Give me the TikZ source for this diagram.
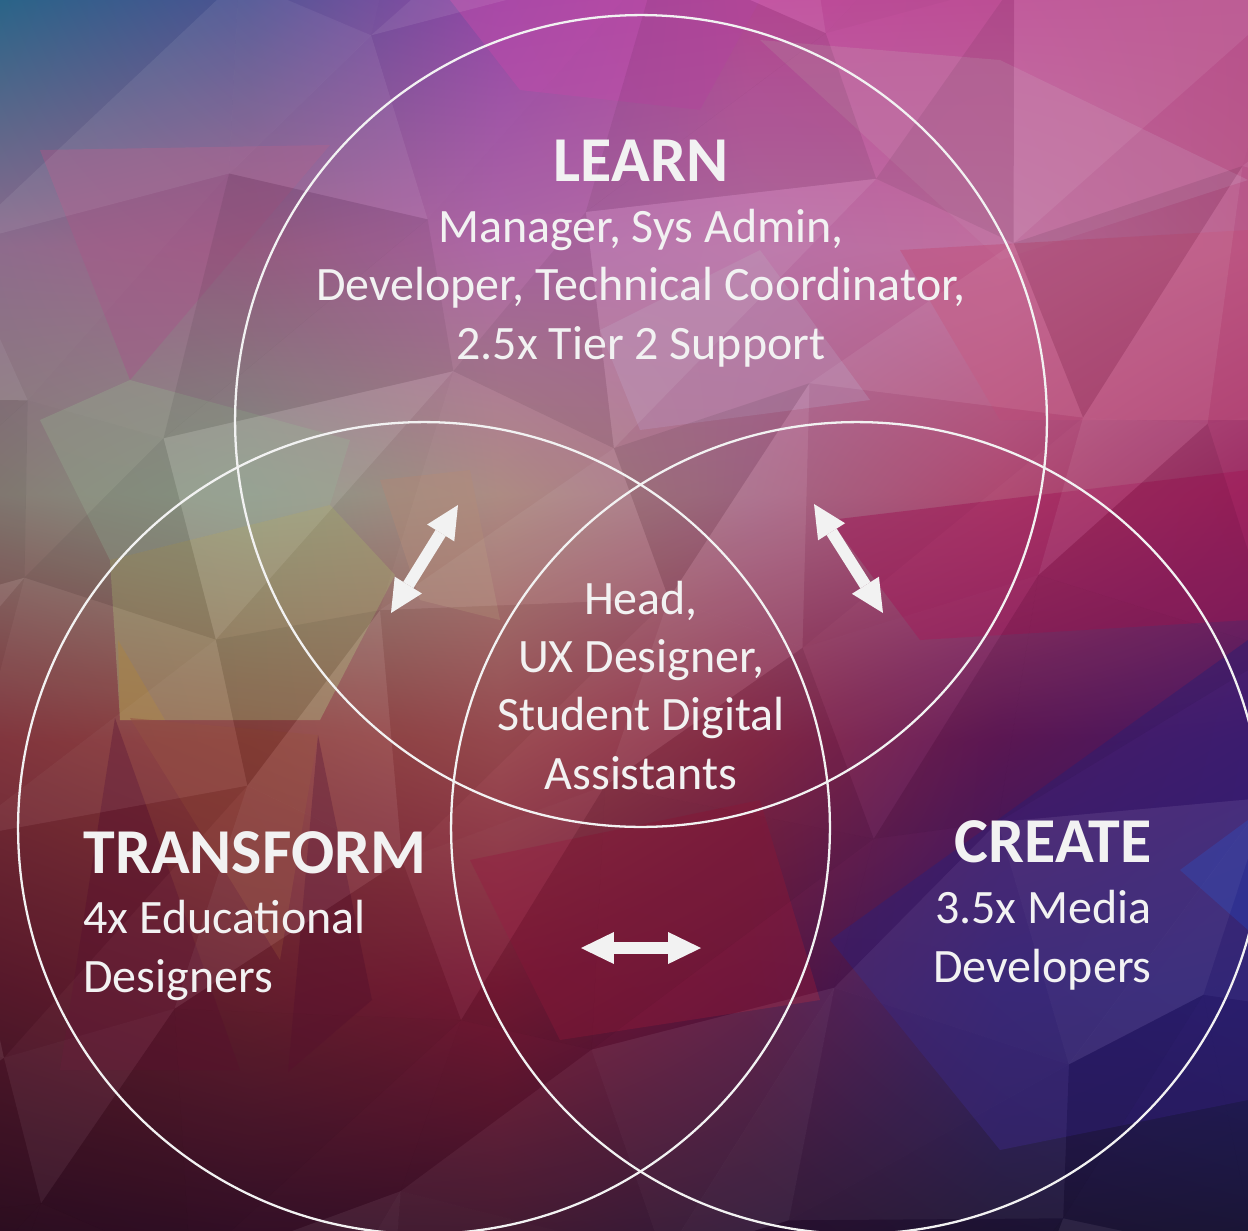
\documentclass[tikz,border=0pt]{standalone}
\usepackage{fontspec}
\setmainfont{Carlito}
\usetikzlibrary{arrows.meta,positioning,shadings}

\definecolor{ink}{HTML}{F2F2F2}
% background colour grid (rows top to bottom)
\definecolor{g00}{HTML}{2A6488}\definecolor{g01}{HTML}{4E5292}\definecolor{g02}{HTML}{9448A6}\definecolor{g03}{HTML}{C04C9E}\definecolor{g04}{HTML}{BC4E94}\definecolor{g05}{HTML}{B8508C}
\definecolor{g10}{HTML}{8E6A8C}\definecolor{g11}{HTML}{A0628A}\definecolor{g12}{HTML}{B068A8}\definecolor{g13}{HTML}{B870A6}\definecolor{g14}{HTML}{C06E9E}\definecolor{g15}{HTML}{B85A88}
\definecolor{g20}{HTML}{8A8078}\definecolor{g21}{HTML}{8A9888}\definecolor{g22}{HTML}{AC8A82}\definecolor{g23}{HTML}{A86A88}\definecolor{g24}{HTML}{B04A72}\definecolor{g25}{HTML}{9A2A62}
\definecolor{g30}{HTML}{7E3038}\definecolor{g31}{HTML}{8A3C3A}\definecolor{g32}{HTML}{9A4A50}\definecolor{g33}{HTML}{8A2A48}\definecolor{g34}{HTML}{62195A}\definecolor{g35}{HTML}{4A1A6A}
\definecolor{g40}{HTML}{5A1A2C}\definecolor{g41}{HTML}{6A2030}\definecolor{g42}{HTML}{7A1A36}\definecolor{g43}{HTML}{5A1540}\definecolor{g44}{HTML}{2E1A68}\definecolor{g45}{HTML}{26206C}
\definecolor{g50}{HTML}{2E0E22}\definecolor{g51}{HTML}{351028}\definecolor{g52}{HTML}{3A1028}\definecolor{g53}{HTML}{2A1030}\definecolor{g54}{HTML}{1E1434}\definecolor{g55}{HTML}{1C1638}
% facet colours
\definecolor{olive}{HTML}{A4A470}
\definecolor{sage}{HTML}{94A08C}
\definecolor{ochre}{HTML}{A88040}
\definecolor{wine}{HTML}{5E1430}
\definecolor{rust}{HTML}{8E4438}
\definecolor{crimson}{HTML}{8E1A3C}
\definecolor{berry}{HTML}{A01858}
\definecolor{indigo}{HTML}{32207A}
\definecolor{cobalt}{HTML}{2438A8}
\definecolor{blush}{HTML}{C27AA6}
\definecolor{lilac}{HTML}{B88AB0}
\definecolor{orchid}{HTML}{C04CAA}
\definecolor{mauve}{HTML}{A45A88}
\definecolor{tan}{HTML}{B08A78}
\definecolor{rose}{HTML}{C0507C}

% jittered mesh for the low-poly look
\pgfmathdeclarefunction{jx}{2}{\pgfmathparse{#1*208+45*sin(#1*137+#2*251)}}
\pgfmathdeclarefunction{jy}{2}{\pgfmathparse{#2*205+40*sin(#1*211+#2*97)}}

\tikzset{
  ring/.style={circle, draw=ink, line width=1.3pt, minimum size=16.24cm, inner sep=0pt},
  head/.style={text=ink, font=\fontsize{36.4}{43}\selectfont\bfseries, inner sep=0pt},
  roles/.style={text=ink, font=\fontsize{27.3}{33.2}\selectfont, inner sep=0pt},
  facet/.style={fill=#1, opacity=0.5},
  link/.style={{Triangle[length=18.7pt,width=18.2pt,line width=0pt]}-{Triangle[length=18.7pt,width=18.2pt,line width=0pt]}, line width=6.8pt, draw=ink, fill=ink}
}

\begin{document}
\begin{tikzpicture}[x=0.02cm, y=-0.02cm]
\useasboundingbox (0,0) rectangle (1248,1231);
\clip (0,0) rectangle (1248,1231);

% background
\foreach \r in {0,...,4}{
  \foreach \c in {0,...,4}{
    \pgfmathtruncatemacro{\rr}{\r+1}
    \pgfmathtruncatemacro{\cc}{\c+1}
    \shade[upper left=g\r\c, upper right=g\r\cc, lower left=g\rr\c, lower right=g\rr\cc]
      (\c*250,\r*247) rectangle (\cc*250,\rr*247);
  }
}
\fill[facet=sage] (40,420) -- (130,380) -- (350,440) -- (330,505) -- (110,560) -- cycle;
\fill[facet=olive] (110,560) -- (330,505) -- (395,575) -- (320,720) -- (120,720) -- cycle;
\fill[facet=ochre] (118,640) -- (165,720) -- (120,720) -- cycle;
\fill[facet=wine] (115,718) -- (240,1070) -- (60,1070) -- cycle;
\fill[facet=wine] (318,735) -- (372,1000) -- (288,1072) -- cycle;
\fill[facet=rust] (130,718) -- (318,735) -- (280,960) -- cycle;
\fill[facet=crimson] (470,860) -- (760,800) -- (820,1000) -- (560,1040) -- cycle;
\fill[facet=berry] (830,520) -- (1248,470) -- (1248,620) -- (920,640) -- cycle;
\fill[facet=indigo] (830,940) -- (1248,640) -- (1248,1100) -- (1000,1150) -- cycle;
\fill[facet=cobalt] (1180,870) -- (1248,820) -- (1248,930) -- cycle;
\fill[facet=blush] (760,40) -- (1000,60) -- (1248,180) -- (1000,260) -- cycle;
\fill[facet=lilac] (600,330) -- (760,250) -- (870,400) -- (640,430) -- cycle;
\fill[facet=orchid] (450,0) -- (760,0) -- (700,110) -- (520,90) -- cycle;
\fill[facet=mauve] (40,150) -- (330,145) -- (130,380) -- cycle;
\fill[facet=tan] (380,480) -- (470,470) -- (500,620) -- (420,600) -- cycle;
\fill[facet=rose] (900,250) -- (1248,230) -- (1248,420) -- (1000,420) -- cycle;

% light and dark tints on a triangle mesh
\foreach \i in {-1,...,6}{
  \foreach \j in {-1,...,6}{
    \pgfmathtruncatemacro{\ii}{\i+1}
    \pgfmathtruncatemacro{\jj}{\j+1}
    \pgfmathsetmacro{\ta}{0.08*sin(\i*91+\j*173)}
    \pgfmathsetmacro{\tb}{0.08*sin(\i*59+\j*113+70)}
    \pgfmathsetmacro{\oa}{abs(\ta)}
    \pgfmathsetmacro{\ob}{abs(\tb)}
    \ifdim\ta pt>0pt \def\ca{white}\else\def\ca{black}\fi
    \ifdim\tb pt>0pt \def\cb{white}\else\def\cb{black}\fi
    \fill[\ca, opacity=\oa] ({jx(\i,\j)},{jy(\i,\j)}) -- ({jx(\ii,\j)},{jy(\ii,\j)}) -- ({jx(\i,\jj)},{jy(\i,\jj)}) -- cycle;
    \fill[\cb, opacity=\ob] ({jx(\ii,\j)},{jy(\ii,\j)}) -- ({jx(\ii,\jj)},{jy(\ii,\jj)}) -- ({jx(\i,\jj)},{jy(\i,\jj)}) -- cycle;
  }
}

% circles
\node[ring] (learnring) at (641,421) {};
\node[ring] (transformring) at (424,828) {};
\node[ring] (createring) at (857,828) {};

% labels (base = last line)
\node[head, anchor=base] (learn) at (641,181) {LEARN};
\node[roles, anchor=base, align=center] (learnroles) at (641,359)
  {Manager, Sys Admin,\\Developer, Technical Coordinator,\\2.5x Tier 2 Support};
\node[roles, anchor=base, align=center] (shared) at (641,789)
  {Head,\\UX Designer,\\Student Digital\\Assistants};
\node[head, anchor=base west] (transform) at (83,873) {TRANSFORM};
\node[roles, anchor=base west, align=left] (transformroles) at (83,992)
  {4x Educational\\Designers};
\node[head, anchor=base east] (create) at (1152,862) {CREATE};
\node[roles, anchor=base east, align=right] (createroles) at (1152,982)
  {3.5x Media\\Developers};

% arrows
\coordinate (tlA) at (391,613);
\coordinate (tlB) at (458,505);
\coordinate (trA) at (814,504);
\coordinate (trB) at (883,613);
\coordinate (bA) at (581,948);
\coordinate (bB) at (701,948);
\foreach \a/\b in {tlA/tlB, trA/trB, bA/bB}
  \draw[link] (\a) -- (\b);
\end{tikzpicture}
\end{document}
